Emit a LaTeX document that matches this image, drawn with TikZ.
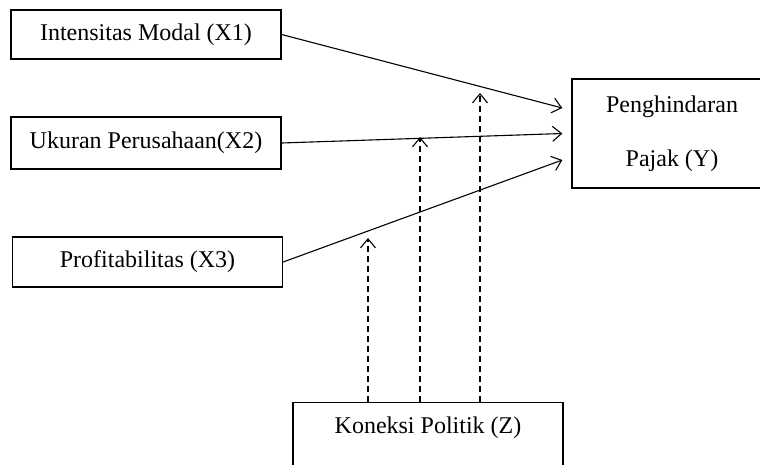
\documentclass[tikz,border=0pt]{standalone}
\usepackage{fontspec}
\setmainfont{Liberation Serif}
\usetikzlibrary{arrows.meta}
\tikzset{
  varbox/.style={draw, line width=1.3pt, minimum width=270pt, inner sep=0pt, font=\fontsize{24}{28}\selectfont},
  effect/.style={-{Straight Barb[length=9pt,width=15pt]}, line width=1.1pt},
  moder/.style={effect, dash pattern=on 6pt off 4pt},
}
\begin{document}
\begin{tikzpicture}[x=1pt,y=-1pt]
  \clip (0,0) rectangle (760,464);
  \node[varbox, minimum height=49pt] (x1) at (146,34.5) {Intensitas Modal (X1)};
  \node[varbox, minimum height=52pt] (x2) at (146,143) {Ukuran Perusahaan(X2)};
  \node[varbox, minimum height=50pt] (x3) at (147.5,262) {Profitabilitas (X3)};
  \node[varbox, minimum width=200pt, minimum height=109pt, align=center, font=\fontsize{24}{54}\selectfont] (y) at (672,133.5) {Penghindaran\\Pajak (Y)};
  \node[varbox, anchor=north, inner ysep=6pt, text height=25pt, text depth=41pt] (z) at (428,402) {Koneksi Politik (Z)};
  \draw[effect] (x1.east) -- ([xshift=-9pt,yshift=25.5pt]y.west);
  \draw[effect] (x2.east) -- ([xshift=-9pt]y.west);
  \draw[effect] (x3.east) -- ([xshift=-9pt,yshift=-26.5pt]y.west);
  \coordinate (m1) at (368,238);
  \coordinate (m2) at (420,137);
  \coordinate (m3) at (480,93);
  \draw[moder] (z.north -| m1) -- (m1);
  \draw[moder] (z.north -| m2) -- (m2);
  \draw[moder] (z.north -| m3) -- (m3);
\end{tikzpicture}
\end{document}
